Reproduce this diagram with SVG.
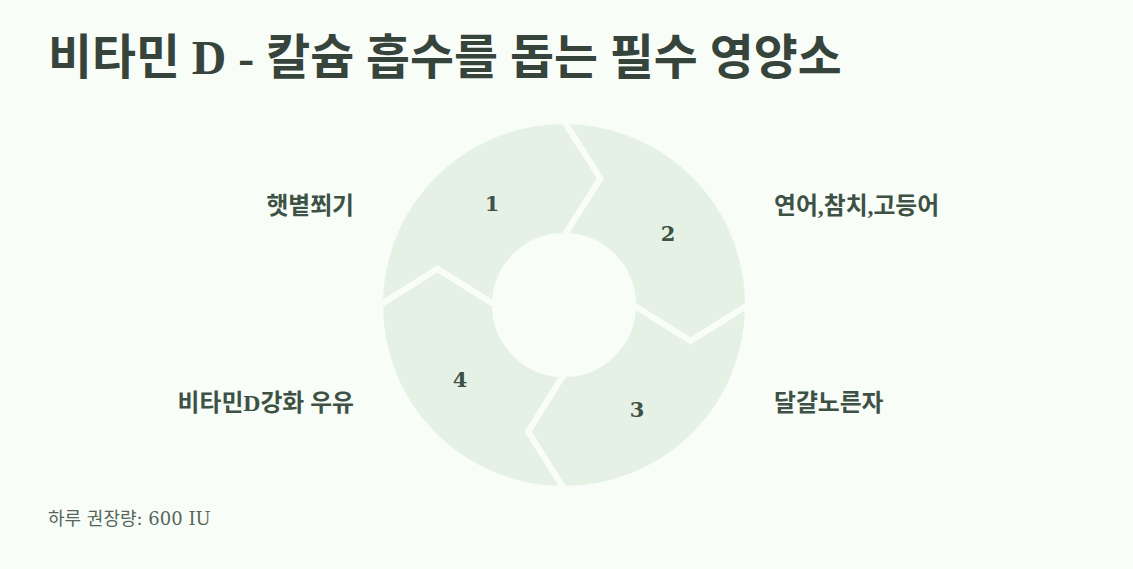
<svg xmlns="http://www.w3.org/2000/svg" width="1133" height="569" viewBox="0 0 1133 569">
<style>
.seg{fill:#e6f1e6;stroke:#f8fdf8;stroke-width:6;stroke-linejoin:miter}
.num{font-family:"DejaVu Serif","Noto Sans CJK KR",serif;font-weight:bold;font-size:21px;fill:#3d5245;text-anchor:middle;dominant-baseline:central}
.lbl{font-family:"Liberation Serif","Noto Sans CJK KR",serif;font-weight:bold;font-size:23.8px;fill:#3d5245;dominant-baseline:central}
.title{font-family:"Liberation Serif","Noto Sans CJK KR",serif;font-weight:bold;font-size:47.8px;fill:#36443c}
.foot{font-family:"DejaVu Serif","Noto Sans CJK KR",serif;font-size:18px;fill:#56665c}
</style>
<rect width="1133" height="569" fill="#f8fdf8"/>
<text class="title" x="48" y="74">비타민 D - 칼슘 흡수를 돕는 필수 영양소</text>
<g id="seg1"><path class="seg" d="M380,305 A184,184 0 0 1 564,121 L600.5,178.5 L564,236 A69,69 0 0 0 495,305 L437.5,269 Z"/><text class="num" x="492" y="203">1</text></g>
<g id="seg2"><path class="seg" d="M564,121 A184,184 0 0 1 748,305 L690.5,341 L633,305 A69,69 0 0 0 564,236 L600.5,178.5 Z"/><text class="num" x="668" y="233">2</text></g>
<g id="seg3"><path class="seg" d="M748,305 A184,184 0 0 1 564,489 L528,431.5 L564,374 A69,69 0 0 0 633,305 L690.5,341 Z"/><text class="num" x="637" y="409">3</text></g>
<g id="seg4"><path class="seg" d="M564,489 A184,184 0 0 1 380,305 L437.5,269 L495,305 A69,69 0 0 0 564,374 L528,431.5 Z"/><text class="num" x="460" y="379">4</text></g>
<g id="label1"><text class="lbl" x="354" y="206" text-anchor="end">햇볕쬐기</text></g>
<g id="label2"><text class="lbl" x="774" y="206">연어,참치,고등어</text></g>
<g id="label3"><text class="lbl" x="774" y="403">달걀노른자</text></g>
<g id="label4"><text class="lbl" x="354" y="403" text-anchor="end">비타민D강화 우유</text></g>
<g id="connectors"></g>
<text class="foot" x="48" y="525">하루 권장량: 600 IU</text>
</svg>
